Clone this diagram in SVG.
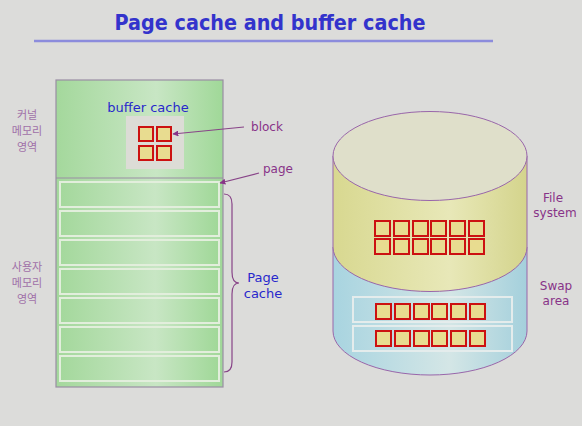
<svg xmlns="http://www.w3.org/2000/svg" width="582" height="426" viewBox="0 0 582 426">
<defs>
<linearGradient id="green" x1="0" y1="0" x2="1" y2="0">
<stop offset="0" stop-color="#a4d89c"/><stop offset="0.6" stop-color="#c8e6c4"/><stop offset="1" stop-color="#a0d898"/>
</linearGradient>
<linearGradient id="yellow" x1="0" y1="0" x2="1" y2="0">
<stop offset="0" stop-color="#d8d890"/><stop offset="0.6" stop-color="#e8e8b8"/><stop offset="1" stop-color="#d4d48c"/>
</linearGradient>
<linearGradient id="blue" x1="0" y1="0" x2="1" y2="0">
<stop offset="0" stop-color="#a8d4e0"/><stop offset="0.6" stop-color="#d4e6e6"/><stop offset="1" stop-color="#a4d0dc"/>
</linearGradient>
<marker id="ah" viewBox="0 0 10 10" refX="9" refY="5" markerWidth="5" markerHeight="5" orient="auto">
<path d="M0,0 L10,5 L0,10 Z" fill="#883388"/>
</marker>
</defs>
<style>
.lbl{font-family:"DejaVu Sans",sans-serif;font-size:12px;fill:#883388;text-anchor:middle}
.ko{font-family:"Noto Sans CJK KR",sans-serif;font-size:11px;fill:#a070a8;text-anchor:middle}
.blu{font-family:"DejaVu Sans",sans-serif;font-size:13px;fill:#2828cc;text-anchor:middle}
.sq{fill:#e8dc90;stroke:#cc1111;stroke-width:2}
.row{fill:url(#green);stroke:#e2eedc;stroke-width:2}
.srow{fill:none;stroke:#e4ecec;stroke-width:2}
.conn{fill:none;stroke:#884488;stroke-width:1.2}
</style>
<rect width="582" height="426" fill="#dcdcda"/>
<g id="title">
<text x="270" y="30" font-family="DejaVu Sans,sans-serif" font-size="22" font-weight="bold" fill="#3333cc" text-anchor="middle" textLength="311" lengthAdjust="spacingAndGlyphs">Page cache and buffer cache</text>
<line x1="34" y1="41" x2="493" y2="41" stroke="#8c8cdc" stroke-width="2.5"/>
</g>
<g id="memory">
<rect x="56" y="80" width="167" height="307" fill="url(#green)" stroke="#9a8ea4" stroke-width="1.2"/>
<line x1="56" y1="178" x2="223" y2="178" stroke="#9a8ea4" stroke-width="1.2"/>
</g>
<g id="buffer-cache">
<text class="blu" x="148" y="112">buffer cache</text>
<rect x="126" y="116" width="58" height="53" fill="#dcdcd6"/>
<rect class="sq" x="139" y="127" width="14" height="14"/>
<rect class="sq" x="157" y="127" width="14" height="14"/>
<rect class="sq" x="139" y="146" width="14" height="14"/>
<rect class="sq" x="157" y="146" width="14" height="14"/>
</g>
<g id="page-cache">
<rect class="row" x="60" y="182" width="159" height="25"/>
<rect class="row" x="60" y="211" width="159" height="25"/>
<rect class="row" x="60" y="240" width="159" height="25"/>
<rect class="row" x="60" y="269" width="159" height="25"/>
<rect class="row" x="60" y="298" width="159" height="25"/>
<rect class="row" x="60" y="327" width="159" height="25"/>
<rect class="row" x="60" y="356" width="159" height="25"/>
<text class="blu" x="263" y="282">Page</text>
<text class="blu" x="263" y="298">cache</text>
</g>
<g id="kernel-label">
<text class="ko" x="27" y="119">커널</text>
<text class="ko" x="27" y="135">메모리</text>
<text class="ko" x="27" y="151">영역</text>
</g>
<g id="user-label">
<text class="ko" x="27" y="271">사용자</text>
<text class="ko" x="27" y="287">메모리</text>
<text class="ko" x="27" y="303">영역</text>
</g>
<g id="block-label"><text class="lbl" x="267" y="131">block</text></g>
<g id="page-label"><text class="lbl" x="278" y="173">page</text></g>
<g id="disk">
<path d="M333,247 L333,331 A97,44 0 0 0 527,331 L527,247 Z" fill="url(#blue)" stroke="#9966aa" stroke-width="1"/>
<path d="M333,156 L333,247 A97,44.5 0 0 0 527,247 L527,156 Z" fill="url(#yellow)" stroke="#9966aa" stroke-width="1"/>
<ellipse cx="430" cy="156" rx="97" ry="44.5" fill="#dfdfca" stroke="#9966aa" stroke-width="1"/>
<g>
<rect class="sq" x="375" y="221" width="15" height="15"/><rect class="sq" x="394" y="221" width="15" height="15"/><rect class="sq" x="413" y="221" width="15" height="15"/><rect class="sq" x="431" y="221" width="15" height="15"/><rect class="sq" x="450" y="221" width="15" height="15"/><rect class="sq" x="469" y="221" width="15" height="15"/>
<rect class="sq" x="375" y="239" width="15" height="15"/><rect class="sq" x="394" y="239" width="15" height="15"/><rect class="sq" x="413" y="239" width="15" height="15"/><rect class="sq" x="431" y="239" width="15" height="15"/><rect class="sq" x="450" y="239" width="15" height="15"/><rect class="sq" x="469" y="239" width="15" height="15"/>
</g>
<rect class="srow" x="353" y="297" width="159" height="25"/>
<rect class="srow" x="353" y="326" width="159" height="25"/>
<g>
<rect class="sq" x="376" y="304" width="15" height="15"/><rect class="sq" x="395" y="304" width="15" height="15"/><rect class="sq" x="414" y="304" width="15" height="15"/><rect class="sq" x="432" y="304" width="15" height="15"/><rect class="sq" x="451" y="304" width="15" height="15"/><rect class="sq" x="470" y="304" width="15" height="15"/>
<rect class="sq" x="376" y="331" width="15" height="15"/><rect class="sq" x="395" y="331" width="15" height="15"/><rect class="sq" x="414" y="331" width="15" height="15"/><rect class="sq" x="432" y="331" width="15" height="15"/><rect class="sq" x="451" y="331" width="15" height="15"/><rect class="sq" x="470" y="331" width="15" height="15"/>
</g>
</g>
<g id="fs-label"><text class="lbl" x="553" y="202">File</text><text class="lbl" x="555" y="217">system</text></g>
<g id="swap-label"><text class="lbl" x="556" y="290">Swap</text><text class="lbl" x="556" y="305">area</text></g>
<g id="connectors">
<line class="conn" x1="244" y1="127" x2="173" y2="134" marker-end="url(#ah)"/>
<line class="conn" x1="259" y1="173" x2="220" y2="183" marker-end="url(#ah)"/>
<path class="conn" d="M224,194 Q232,194 232,204 L232,272 Q232,283 239,283 Q232,283 232,294 L232,362 Q232,372 224,372"/>
</g>
</svg>
